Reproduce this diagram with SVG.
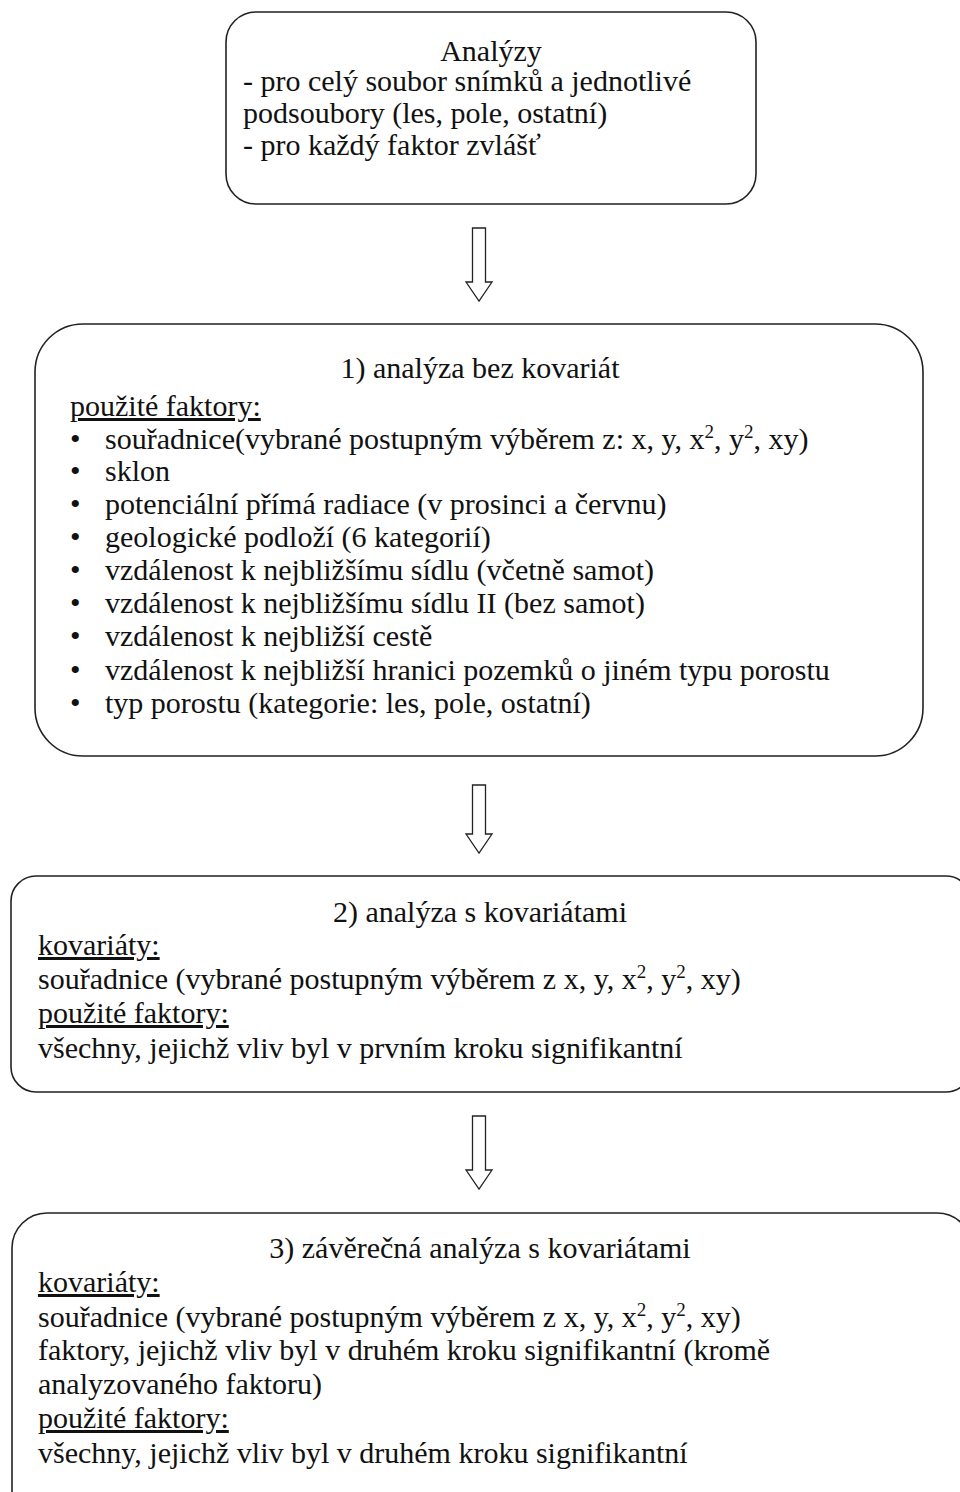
<svg xmlns="http://www.w3.org/2000/svg" width="960" height="1492" viewBox="0 0 960 1492">
<style>
.box{fill:#fff;stroke:#222;stroke-width:1.6}
.arr{fill:#fff;stroke:#222;stroke-width:1.3;stroke-linejoin:miter}
text{font-family:"Liberation Serif","Times New Roman",serif;font-size:30px;fill:#111}
.c{text-anchor:middle}
.u{text-decoration:underline}
.sup{font-size:19px}
</style>
<rect width="960" height="1492" fill="#fff"/>
<g id="connectors">
<path class="arr" d="M472.5,228 H485.5 V282 H492 L479,301 L466,282 H472.5 Z"/>
<path class="arr" d="M472.5,785 H485.5 V834 H492 L479,853 L466,834 H472.5 Z"/>
<path class="arr" d="M472.5,1116 H485.5 V1170 H492 L479,1189 L466,1170 H472.5 Z"/>
</g>
<g id="node-analyzy">
<rect class="box" x="226" y="12" width="530" height="192" rx="30" ry="30"/>
<text class="c" x="491" y="61">Analýzy</text>
<text x="243" y="91">- pro celý soubor snímků a jednotlivé</text>
<text x="243" y="123">podsoubory (les, pole, ostatní)</text>
<text x="243" y="155">- pro každý faktor zvlášť</text>
</g>
<g id="node-krok1">
<rect class="box" x="35" y="324" width="888" height="432" rx="48" ry="48"/>
<text class="c" x="480" y="378">1) analýza bez kovariát</text>
<text class="u" x="70" y="416">použité faktory:</text>
<text x="70" y="449">•</text><text x="105" y="449">souřadnice(vybrané postupným výběrem z: x, y, x<tspan class="sup" dy="-11">2</tspan><tspan dy="11">, y</tspan><tspan class="sup" dy="-11">2</tspan><tspan dy="11">, xy)</tspan></text>
<text x="70" y="481">•</text><text x="105" y="481">sklon</text>
<text x="70" y="514">•</text><text x="105" y="514">potenciální přímá radiace (v prosinci a červnu)</text>
<text x="70" y="547">•</text><text x="105" y="547">geologické podloží (6 kategorií)</text>
<text x="70" y="580">•</text><text x="105" y="580">vzdálenost k nejbližšímu sídlu (včetně samot)</text>
<text x="70" y="613">•</text><text x="105" y="613">vzdálenost k nejbližšímu sídlu II (bez samot)</text>
<text x="70" y="646">•</text><text x="105" y="646">vzdálenost k nejbližší cestě</text>
<text x="70" y="680">•</text><text x="105" y="680">vzdálenost k nejbližší hranici pozemků o jiném typu porostu</text>
<text x="70" y="713">•</text><text x="105" y="713">typ porostu (kategorie: les, pole, ostatní)</text>
</g>
<g id="node-krok2">
<rect class="box" x="11" y="876" width="960" height="216" rx="25" ry="25"/>
<text class="c" x="480" y="922">2) analýza s kovariátami</text>
<text class="u" x="38" y="955">kovariáty:</text>
<text x="38" y="989">souřadnice (vybrané postupným výběrem z x, y, x<tspan class="sup" dy="-11">2</tspan><tspan dy="11">, y</tspan><tspan class="sup" dy="-11">2</tspan><tspan dy="11">, xy)</tspan></text>
<text class="u" x="38" y="1023">použité faktory:</text>
<text x="38" y="1058">všechny, jejichž vliv byl v prvním kroku signifikantní</text>
</g>
<g id="node-krok3">
<rect class="box" x="12" y="1213" width="960" height="320" rx="35" ry="35"/>
<text class="c" x="480" y="1258">3) závěrečná analýza s kovariátami</text>
<text class="u" x="38" y="1292">kovariáty:</text>
<text x="38" y="1327">souřadnice (vybrané postupným výběrem z x, y, x<tspan class="sup" dy="-11">2</tspan><tspan dy="11">, y</tspan><tspan class="sup" dy="-11">2</tspan><tspan dy="11">, xy)</tspan></text>
<text x="38" y="1360">faktory, jejichž vliv byl v druhém kroku signifikantní (kromě</text>
<text x="38" y="1394">analyzovaného faktoru)</text>
<text class="u" x="38" y="1428">použité faktory:</text>
<text x="38" y="1463">všechny, jejichž vliv byl v druhém kroku signifikantní</text>
</g>
</svg>
